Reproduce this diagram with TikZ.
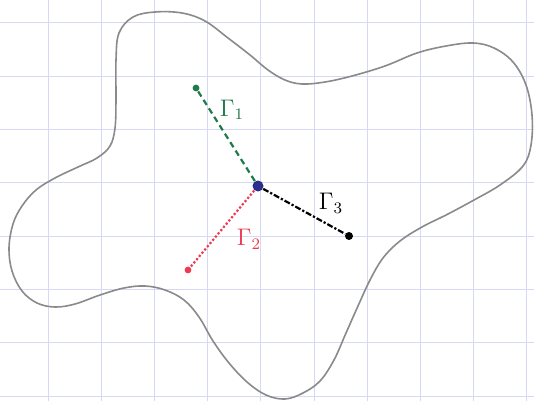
\documentclass[tikz,border=0pt]{standalone}
\usepackage{amsmath}
\usepackage{tikz}
\usetikzlibrary{calc}
\definecolor{gridBlue}{HTML}{D6D9F4}
\definecolor{blobGray}{HTML}{8A8A8A}
\definecolor{pathGreen}{HTML}{1E7A4A}
\definecolor{pathRed}{HTML}{EE3B52}
\definecolor{ptBlue}{HTML}{2A2F8C}

\begin{document}
\begin{tikzpicture}[
  x=0.5pt, y=-0.5pt,
  dot/.style={circle, inner sep=0pt, minimum size=3.4pt},
  lbl/.style={font=\large, inner sep=0pt},
]
  \useasboundingbox (0,0) rectangle (534,401);
  % squared paper
  \foreach \i in {0,...,9}
    \draw[gridBlue, line width=0.5pt] ({48+53.2*\i},0) -- ({48+53.2*\i},401);
  \foreach \j in {0,...,7}
    \draw[gridBlue, line width=0.5pt] (0,{23+53.3*\j}) -- (534,{23+53.3*\j});

  % the domain
  \draw[blobGray, line width=0.8pt] plot[smooth cycle, tension=0.6] coordinates {
    (116,100) (116,60) (119,33) (133,17) (155,12) (182,13) (205,21)
    (228,38) (250,55) (268,70) (285,80) (302,84) (325,82) (352,76)
    (385,66) (417,53) (446,46) (473,43) (494,48) (513,62) (526,85)
    (532,115) (531,145) (523,166) (500,185) (474,200) (448,214)
    (422,227) (400,241) (383,258) (370,280) (358,306) (346,333)
    (334,360) (320,381) (303,393) (285,399) (266,395) (247,382)
    (229,363) (213,341) (199,317) (184,300) (165,290) (145,286)
    (124,288) (100,295) (75,304) (55,307) (37,303) (22,291)
    (12,271) (9,248) (13,224) (22,206) (36,190) (55,178) (78,167)
    (97,158) (110,146) (115,128)};

  \node[dot, fill=ptBlue, minimum size=5.5pt] (mid) at (258,186) {};
  \node[dot, fill=pathGreen] (top) at (196,88) {};
  \node[dot, fill=pathRed] (low) at (188,270) {};
  \node[dot, fill=black, minimum size=4pt] (rgt) at (349,236) {};

  \draw[pathGreen, line width=1.1pt, densely dashed] (mid) -- (top);
  \draw[pathRed, line width=1.1pt, densely dotted] (mid) -- (low);
  \draw[black, line width=1.1pt, densely dashdotted] (mid) -- (rgt);

  \node[lbl, text=pathGreen] (g1) at (232,110) {$\Gamma_{1}$};
  \node[lbl, text=pathRed] (g2) at (249,239) {$\Gamma_{2}$};
  \node[lbl, text=black] (g3) at (331,203) {$\Gamma_{3}$};
\end{tikzpicture}
\end{document}
